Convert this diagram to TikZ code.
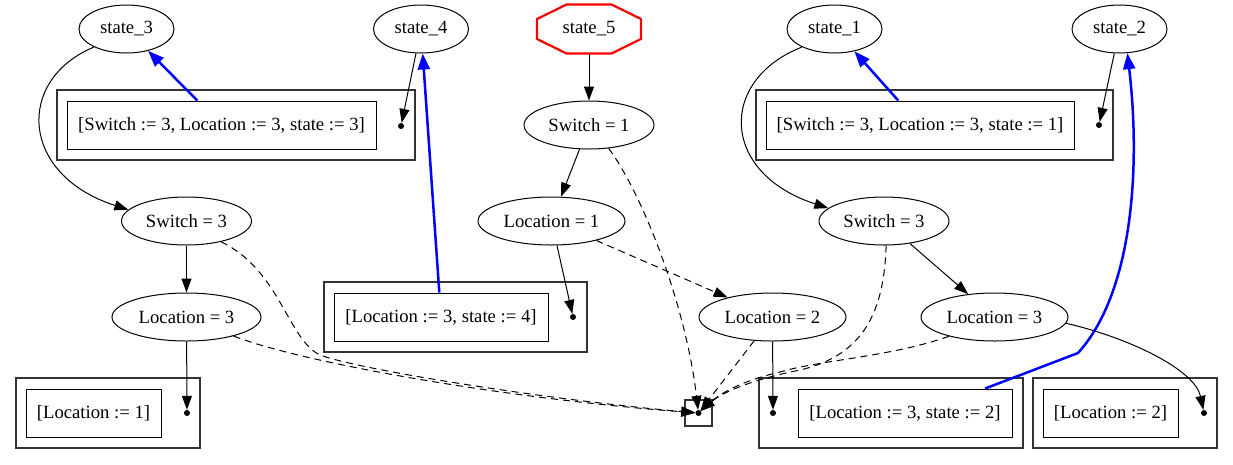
\documentclass[tikz,border=0pt]{standalone}
\usepackage{fontspec}
\setmainfont{Liberation Serif}
\usetikzlibrary{shapes.geometric,arrows.meta}
\begin{document}
\begin{tikzpicture}[x=1pt,y=-1pt,
  every node/.style={font=\fontsize{18.67}{22}\selectfont},
  ell/.style={ellipse,draw,line width=1pt,inner sep=0pt,minimum height=48pt},
  inbox/.style={rectangle,draw,line width=1pt,minimum height=48pt,inner sep=2pt},
  outbox/.style={rectangle,draw=black!80,line width=1.4pt,minimum height=70pt,inner sep=0pt},
  pt/.style={circle,fill,inner sep=0pt,minimum size=6pt},
  arr/.style={-{Triangle[length=14pt,width=10pt]},line width=1pt},
  darr/.style={arr,dash pattern=on 7pt off 5pt},
  barr/.style={-{Triangle[length=16pt,width=12pt]},line width=2.5pt,blue}]
\useasboundingbox (0,0) rectangle (1233,464);

% state nodes
\node[ell,minimum width=95pt] (s3) at (126.5,29) {state\_3};
\node[ell,minimum width=95pt] (s4) at (421,29) {state\_4};
\node[minimum width=104pt,minimum height=49pt,inner sep=0pt] (s5) at (589,29) {state\_5};
\draw[red,line width=2.2pt] ([shift={(-22.5,-24.5)}]s5.center) -- ([shift={(22.5,-24.5)}]s5.center)
  -- ([shift={(52,-10)}]s5.center) -- ([shift={(52,10)}]s5.center)
  -- ([shift={(22.5,24.5)}]s5.center) -- ([shift={(-22.5,24.5)}]s5.center)
  -- ([shift={(-52,10)}]s5.center) -- ([shift={(-52,-10)}]s5.center) -- cycle;
\node[ell,minimum width=95pt] (s1) at (834.5,29) {state\_1};
\node[ell,minimum width=95pt] (s2) at (1119.5,29) {state\_2};

% condition nodes
\node[ell,minimum width=130pt] (sw1) at (589,125) {Switch = 1};
\node[ell,minimum width=147pt] (loc1) at (551.5,221) {Location = 1};
\node[ell,minimum width=147pt] (loc2) at (772.5,317) {Location = 2};
\node[ell,minimum width=130pt] (swL) at (186.5,221) {Switch = 3};
\node[ell,minimum width=149pt] (locL) at (186.5,317) {Location = 3};
\node[ell,minimum width=130pt] (swR) at (884,221) {Switch = 3};
\node[ell,minimum width=147pt] (locR) at (994.5,317) {Location = 3};

% action boxes
\node[outbox,minimum width=358pt] (oA) at (236,125) {};
\node[inbox,minimum width=309pt] (iA) at (221.5,125) {[Switch := 3, Location := 3, state := 3]};
\node[pt] (dA) at (401,126) {};

\node[outbox,minimum width=357pt] (oB) at (934.5,125) {};
\node[inbox,minimum width=308pt] (iB) at (920,125) {[Switch := 3, Location := 3, state := 1]};
\node[pt] (dB) at (1099,125) {};

\node[outbox,minimum width=263pt] (oC) at (455.5,317) {};
\node[inbox,minimum width=214pt] (iC) at (441,317) {[Location := 3, state := 4]};
\node[pt] (dC) at (573,317) {};

\node[outbox,minimum width=184pt] (oD) at (108,413) {};
\node[inbox,minimum width=135pt] (iD) at (93.5,413) {[Location := 1]};
\node[pt] (dD) at (187,413) {};

\node[rectangle,draw=black!80,line width=1.4pt,minimum width=27pt,minimum height=26pt,inner sep=0pt] (oE) at (698.5,413) {};
\node[pt] (dE) at (698.5,413) {};

\node[outbox,minimum width=264pt] (oF) at (891,413) {};
\node[inbox,minimum width=214pt] (iF) at (905,413) {[Location := 3, state := 2]};
\node[pt] (dF) at (773,413) {};

\node[outbox,minimum width=184pt] (oG) at (1125,413) {};
\node[inbox,minimum width=135pt] (iG) at (1110.5,413) {[Location := 2]};
\node[pt] (dG) at (1204,413) {};

\coordinate (kF) at (1078,353);

% solid edges
\draw[arr] (s3.209) .. controls (15,80) and (20,175) .. (swL.169);
\draw[arr] (s1.209) .. controls (718,80) and (720,173) .. (swR.167);
\draw[arr] (s4) -- (dA);
\draw[arr] (s2) -- (dB);
\draw[arr] (s5.south) -- (sw1);
\draw[arr] (sw1) -- (loc1);
\draw[arr] (loc1) -- (dC);
\draw[arr] (swL) -- (locL);
\draw[arr] (locL) -- (dD);
\draw[arr] (swR) -- (locR);
\draw[arr] (loc2) -- (dF);
\draw[arr] (locR.-5) .. controls (1130,338) and (1195,370) .. (dG);

% dashed edges
\draw[darr] (loc1) -- (loc2);
\draw[darr] (loc2) -- (dE);
\draw[darr] (sw1.-50) .. controls (640,190) and (685,300) .. (dE);
\draw[darr] (swL.-31) .. controls (280,270) and (288,340) .. (320,355) .. controls (360,370) and (550,400) .. (dE);
\draw[darr] (locL.-22) .. controls (300,362) and (500,398) .. (dE);
\draw[darr] (swR.-85) .. controls (884,310) and (865,355) .. (800,370) .. controls (760,378) and (725,390) .. (dE);
\draw[darr] (locR.203) .. controls (890,357) and (820,360) .. (780,372) .. controls (745,380) and (722,392) .. (dE);

% blue edges
\draw[barr] (iA) -- (s3);
\draw[barr] (iB) -- (s1);
\draw[barr] (iC) -- (s4);
\draw[barr] (iF.17) -- (kF) .. controls (1135,290) and (1140,160) .. (s2.288);
\end{tikzpicture}
\end{document}
